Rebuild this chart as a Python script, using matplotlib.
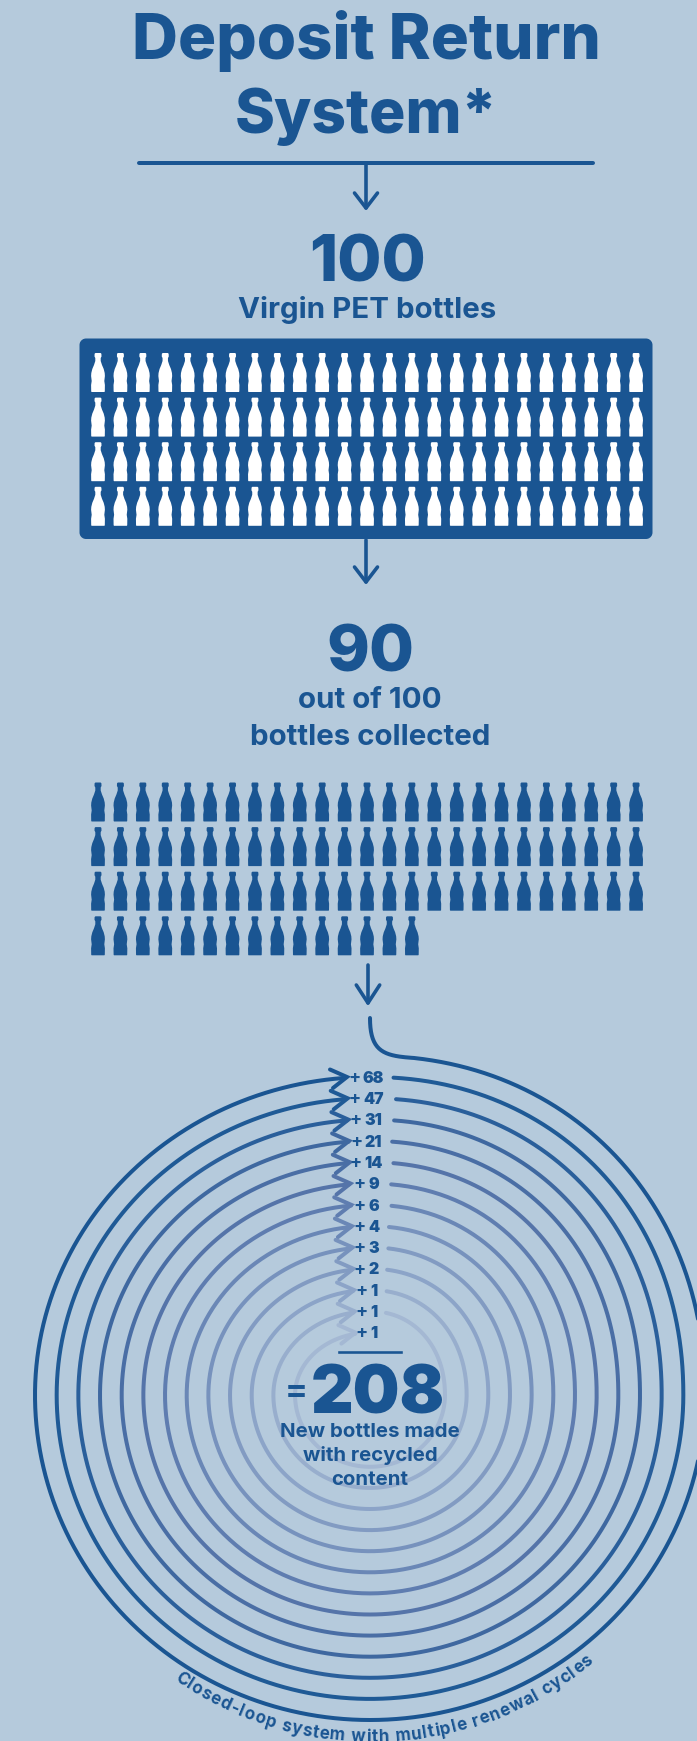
import numpy as np
import matplotlib
matplotlib.use("Agg")
import matplotlib.pyplot as plt
from matplotlib.patches import FancyBboxPatch, PathPatch
from matplotlib.path import Path
from matplotlib.textpath import TextToPath
from matplotlib.font_manager import FontProperties

# -------------------------------
# Data
# -------------------------------
title_lines = ["Deposit Return", "System*"]
virgin_total = 100
virgin_label = "Virgin PET bottles"
collected_total = 90
collected_lines = ["out of 100", "bottles collected"]
cycle_values = [68, 47, 31, 21, 14, 9, 6, 4, 3, 2, 1, 1, 1]
new_total = 208
new_lines = ["New bottles made", "with recycled", "content"]
ring_caption = "Closed-loop system with multiple renewal cycles"
bottles_per_row = 25

# -------------------------------
# Style
# -------------------------------
BG = "#b5cadc"
DARK = "#1a5592"
ring_colors = ["#1a5592", "#1f5a96", "#2a5f9b", "#3f68a0", "#4a6ea5", "#5574a9", "#5f7db0",
               "#6a87b6", "#7792bd", "#829bc2", "#8ca4c8", "#98aecd", "#a4b8d3"]
FONT = "Inter"
PT = 0.72  # px to pt at dpi 100

fig = plt.figure(figsize=(6.97, 17.41), dpi=100, facecolor=BG)
ax = fig.add_axes([0, 0, 1, 1])
ax.set_xlim(0, 697)
ax.set_ylim(1741, 0)
ax.axis("off")

measure = TextToPath()


def text_width(s, px, weight):
    font = FontProperties(family=FONT, weight=weight, size=px * PT)
    dot = measure.get_text_width_height_descent(".", font, False)[0]
    return (measure.get_text_width_height_descent(s + ".", font, False)[0] - dot) / PT


def label(x, y, s, px, weight="bold", **kw):
    ax.text(x, y, s, fontsize=px * PT, fontweight=weight, family=FONT, color=DARK,
            ha=kw.pop("ha", "center"), va="baseline", zorder=10, **kw)


def down_arrow(x, y0, y1, lw=3.6, head=11.5, head_h=15):
    ax.plot([x, x], [y0, y1], color=DARK, lw=lw * PT, solid_capstyle="round")
    ax.plot([x - head, x, x + head], [y1 - head_h, y1, y1 - head_h], color=DARK, lw=lw * PT,
            solid_capstyle="round", solid_joinstyle="round")


# bottle half widths down the height, px from the top
bottle_y = [0, 0.8, 3.5, 5, 8, 12, 16, 20, 23, 28, 32, 38.4, 39]
bottle_w = [2.6, 3.4, 3.5, 2.7, 2.7, 4.0, 5.7, 6.7, 6.9, 6.3, 6.9, 6.8, 6.4]
bottle_xy = np.array(list(zip(bottle_w, bottle_y)) + [(-w, y) for w, y in zip(bottle_w[::-1], bottle_y[::-1])])


def bottles(n, x0, y0, dx, dy, color):
    for i in range(n):
        row, col = divmod(i, bottles_per_row)
        xy = bottle_xy + [x0 + col * dx, y0 + row * dy]
        ax.add_patch(PathPatch(Path(xy), fc=color, ec="none", zorder=5))


# -------------------------------
# Title and first block
# -------------------------------
label(366, 59, title_lines[0], 63.5, weight=800)
label(366, 133, title_lines[1], 60.5, weight=800)
ax.plot([139, 593], [162.5, 162.5], color=DARK, lw=4 * PT, solid_capstyle="round")
down_arrow(366, 164, 208)

label(367.5, 282, str(virgin_total), 64, weight=800)
label(367, 318, virgin_label, 29.5)
ax.add_patch(FancyBboxPatch((85, 344), 562, 189.5, boxstyle="round,pad=0,rounding_size=1",
                            fc=DARK, ec=DARK, lw=11 * PT, joinstyle="round"))
bottles(virgin_total, 98, 353, 22.42, 44.6, "white")

down_arrow(366, 540, 582)

# -------------------------------
# Collected block
# -------------------------------
label(370, 672, str(collected_total), 65, weight=800)
label(370, 708, collected_lines[0], 29.5)
label(370, 745, collected_lines[1], 29.5)
bottles(collected_total, 98, 782.5, 22.42, 44.6, DARK)

down_arrow(368, 965, 1003, head=11.7, head_h=18)

# -------------------------------
# Spiral rings
# -------------------------------
cx, cy = 370, 1395


def quarter(a, b, t0, t1, n=2.0):
    # superellipse piece, angle measured clockwise from the top
    t = np.linspace(t0, t1, 120)
    return cx + a * np.sign(np.sin(t)) * np.abs(np.sin(t)) ** (2 / n), cy - b * np.sign(np.cos(t)) * np.abs(np.cos(t)) ** (2 / n)


for k, value in enumerate(cycle_values):
    half_w = 335 - 21.67 * k
    bottom = 1720 - 21.1 * k
    y_end = 1077 + 21.3 * k
    y_top = y_end - 21.3
    tip = 347 + 0.7 * k
    b_low = bottom - cy
    x1, y1 = quarter(half_w, cy - y_top, 0, np.pi / 2, 2.1)
    x2, y2 = quarter(half_w, b_low, np.pi / 2, np.pi)
    x3, y3 = quarter(half_w, b_low, np.pi, 1.5 * np.pi)
    x4, y4 = quarter(half_w, cy - y_end, 1.5 * np.pi, 2 * np.pi)
    if k == 0:
        keep = x1 >= 412
        s = np.linspace(0, 1, 40)[:, None]
        p = ((1 - s) ** 3 * [370, 1018] + 3 * (1 - s) ** 2 * s * [370, 1052]
             + 3 * (1 - s) * s ** 2 * [384, 1056] + s ** 3 * [x1[keep][0], y1[keep][0]])
        x1, y1 = np.r_[p[:, 0], x1[keep]], np.r_[p[:, 1], y1[keep]]
    else:
        keep = x1 >= 393.5 - 0.75 * (k - 1)
        x1, y1 = x1[keep], y1[keep]
    keep_end = x4 <= tip
    xs = np.r_[x1, x2, x3, x4[keep_end]]
    ys = np.r_[y1, y2, y3, y4[keep_end]]
    ax.plot(xs, ys, color=ring_colors[k], lw=4 * PT, solid_capstyle="round", zorder=2)
    ax.plot([tip - 17, tip, tip - 14], [y_end - 7.5, y_end, y_end + 11], color=ring_colors[k],
            lw=4 * PT, solid_capstyle="round", solid_joinstyle="miter", zorder=3)
    digits = str(value)
    dw = text_width(digits, 16, "black")
    left = 373.5 - dw / 2
    label(left, y_end + 5.8, digits, 16, weight="black", ha="left")
    label(left - 2.5, y_end + 5.8, "+", 18, weight="bold", ha="right")

# -------------------------------
# Total
# -------------------------------
ax.plot([339, 401], [1352, 1352], color=DARK, lw=2.6 * PT)
label(296, 1401, "=", 34)
label(377.5, 1413, str(new_total), 66, weight="black")
for line, y in zip(new_lines, [1437, 1461, 1485]):
    label(370, y, line, 20.4)

# -------------------------------
# Curved caption
# -------------------------------
cap_px = 17
prefix = [text_width(ring_caption[:i], cap_px, "bold") for i in range(len(ring_caption) + 1)]
radius = 347
arc_span = 452
track = (arc_span - prefix[-1]) / (len(ring_caption) - 1)
offset = np.radians(2.5)
for i, ch in enumerate(ring_caption):
    mid = (prefix[i] + prefix[i + 1]) / 2 + track * i
    ang = (arc_span / 2 - mid) / radius - offset
    ax.text(372 - radius * np.sin(ang), 1395 + radius * np.cos(ang), ch, fontsize=cap_px * PT,
            fontweight="bold", family=FONT, color=DARK, rotation=-np.degrees(ang),
            rotation_mode="anchor", ha="center", va="baseline", zorder=10)

fig.savefig("out.png", dpi=100, facecolor=BG)
